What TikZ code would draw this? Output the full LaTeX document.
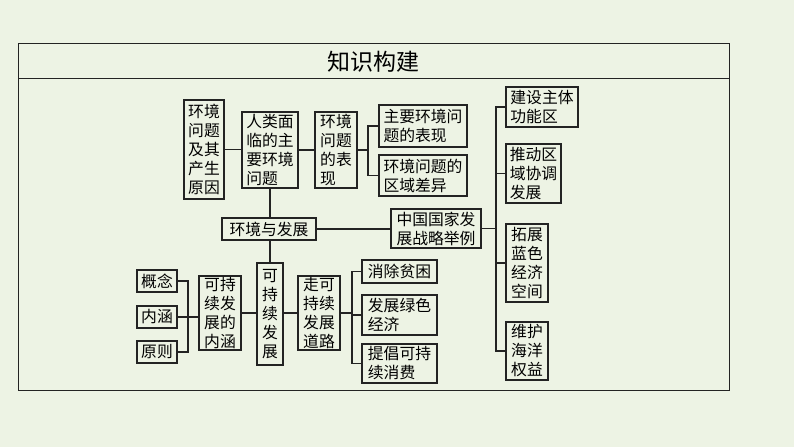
\documentclass[tikz,border=0pt]{standalone}
\usepackage{fontspec}
\newfontfamily\cjk{Noto Sans CJK SC}
\definecolor{bgc}{RGB}{237,243,228}
\definecolor{linec}{RGB}{35,35,35}
\begin{document}
\begin{tikzpicture}[x=1pt,y=-1pt,
  bx/.style={draw=linec,line width=1.3pt,inner sep=1pt,align=left,
    font=\cjk\fontsize{15.8}{19}\selectfont},
  con/.style={draw=linec,line width=1.7pt}]
\useasboundingbox (0,0) rectangle (794,447);
\fill[bgc] (0,0) rectangle (794,447);
% frame
\draw[linec,line width=0.9pt] (18,43) rectangle (729,390);
\draw[linec,line width=0.9pt] (18,78) -- (729,78);
\node[font=\cjk\fontsize{23}{26}\selectfont] (title) at (373,62) {知识构建};
% nodes
\node[bx,minimum width=40pt,minimum height=99pt] (n1) at (204,149.5) {环境\\问题\\及其\\产生\\原因};
\node[bx,minimum width=56pt,minimum height=76pt] (n2) at (270,150) {人类面\\临的主\\要环境\\问题};
\node[bx,minimum width=42pt,minimum height=76pt] (n3) at (336,150) {环境\\问题\\的表\\现};
\node[bx,minimum width=88pt,minimum height=42pt] (n4) at (423,126) {主要环境问\\题的表现};
\node[bx,minimum width=88pt,minimum height=41pt] (n5) at (423,175.5) {环境问题的\\区域差异};
\node[bx,minimum width=94pt,minimum height=22pt] (n6) at (269,229) {环境与发展};
\node[bx,minimum width=90pt,minimum height=39pt] (n7) at (436,228.5) {中国国家发\\展战略举例};
\node[bx,minimum width=72pt,minimum height=40pt] (n8) at (542,107) {建设主体\\功能区};
\node[bx,minimum width=55pt,minimum height=59pt] (n9) at (533.5,173.5) {推动区\\域协调\\发展};
\node[bx,minimum width=42pt,minimum height=78pt] (n10) at (527,263) {拓展\\蓝色\\经济\\空间};
\node[bx,minimum width=42pt,minimum height=58pt] (n11) at (527,351) {维护\\海洋\\权益};
\node[bx,minimum width=40pt,minimum height=22pt] (a1) at (157,281) {概念};
\node[bx,minimum width=40pt,minimum height=22pt] (a2) at (157,317) {内涵};
\node[bx,minimum width=40pt,minimum height=22pt] (a3) at (157,352) {原则};
\node[bx,minimum width=42pt,minimum height=74pt] (b1) at (220,313) {可持\\续发\\展的\\内涵};
\node[bx,minimum width=26pt,minimum height=102pt] (b2) at (270,314) {可\\持\\续\\发\\展};
\node[bx,minimum width=42pt,minimum height=74pt] (b3) at (319,313) {走可\\持续\\发展\\道路};
\node[bx,minimum width=75pt,minimum height=23pt] (c1) at (399.5,271.5) {消除贫困};
\node[bx,minimum width=75pt,minimum height=40pt] (c2) at (399.5,315) {发展绿色\\经济};
\node[bx,minimum width=75pt,minimum height=39pt] (c3) at (399.5,363.5) {提倡可持\\续消费};
% junction coordinates
\coordinate (j1) at (368,150);
\coordinate (j2) at (496,228.5);
\coordinate (j3) at (188,317);
\coordinate (j4) at (352,313);
% connectors
\draw[con] (n1.east) -- (n2.west |- n1.east);
\draw[con] (n2.east) -- (n3.west);
\draw[con] (n3.east) -- (j1);
\draw[con] (n4.west) -| (j1) |- (n5.west);
\draw[con] (n2.south) -- (n2.south |- n6.north);
\draw[con] (n6.east) -- (n7.west |- n6.east);
\draw[con] (n7.east) -- (j2);
\draw[con] (n8.west) -| (j2) |- (n11.west);
\draw[con] (n9.west) -- (n9.west -| j2);
\draw[con] (n10.west) -- (n10.west -| j2);
\draw[con] (n2.south |- n6.south) -- (n2.south |- b2.north);
\draw[con] (a1.east) -| (j3) |- (a3.east);
\draw[con] (a2.east) -- (b1.west |- a2.east);
\draw[con] (b1.east) -- (b2.west |- b1.east);
\draw[con] (b2.east |- b3.west) -- (b3.west);
\draw[con] (b3.east) -- (j4);
\draw[con] (c1.west) -| (j4) |- (c3.west);
\draw[con] (c2.west) -- (c2.west -| j4);
\end{tikzpicture}
\end{document}
